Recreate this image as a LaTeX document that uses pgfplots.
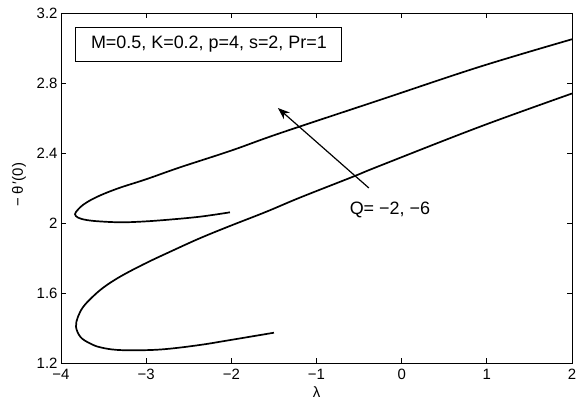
\documentclass[border=0pt]{standalone}
\usepackage{fontspec}
\setmainfont{Liberation Sans}
\usepackage{pgfplots}
\pgfplotsset{compat=1.18}
\usetikzlibrary{arrows.meta}
\begin{document}
\begin{tikzpicture}
\begin{axis}[
  scale only axis,
  width=511bp, height=350bp,
  xmin=-4, xmax=2, ymin=1.2, ymax=3.2,
  xtick={-4,-3,-2,-1,0,1,2},
  xticklabels={−4,−3,−2,−1,0,1,2},
  ytick={1.2,1.6,2,2.4,2.8,3.2},
  yticklabels={1.2,1.6,2,2.4,2.8,3.2},
  tick align=inside,
  major tick length=5bp,
  axis line style={line width=0.9bp},
  tick style={line width=0.9bp,black},
  ticklabel style={font=\fontsize{15}{17}\selectfont},
  xticklabel style={yshift=-3bp},
  xlabel={λ},
  ylabel={−\,θ\,′(0)},
  xlabel style={font=\fontsize{15}{17}\selectfont, at={(axis description cs:0.5,-0.083)}, anchor=center},
  ylabel style={font=\fontsize{15}{17}\selectfont, at={(axis description cs:-0.082,0.51)}, anchor=center},
  clip=false,
]
% Q = -2
\addplot[black, line width=1.7bp, smooth, tension=0.6] coordinates {
  (-2.016,2.061) (-2.369,2.036) (-2.76,2.018) (-3.05,2.008) (-3.3,2.004)
  (-3.542,2.009) (-3.699,2.017) (-3.797,2.030) (-3.836,2.050)
  (-3.80,2.077) (-3.74,2.104) (-3.64,2.134) (-3.50,2.166) (-3.30,2.203) (-3.0,2.250)
  (-2.603,2.318) (-2.0,2.414) (-1.43,2.513) (-0.256,2.703) (0.918,2.893) (2.0,3.05)
};
% Q = -6
\addplot[black, line width=1.7bp, smooth, tension=0.6] coordinates {
  (-1.5,1.373) (-2.016,1.331) (-2.369,1.303) (-2.76,1.280) (-3.05,1.273)
  (-3.346,1.275) (-3.542,1.290) (-3.66,1.312) (-3.77,1.348) (-3.824,1.407)
  (-3.80,1.465) (-3.74,1.520) (-3.64,1.573) (-3.50,1.632) (-3.30,1.695) (-3.006,1.770)
  (-2.70,1.840) (-2.369,1.913) (-2.016,1.983) (-1.586,2.065) (-1.195,2.145)
  (-0.569,2.265) (-0.256,2.327) (0.918,2.550) (2.0,2.740)
};
\draw[line width=1.2bp, -{Stealth[length=12bp,width=9bp]}] (axis cs:-0.385,2.2) -- (axis cs:-1.453,2.657);
\node[draw, line width=0.9bp, minimum width=266bp, minimum height=34bp, inner sep=0pt,
  font=\fontsize{18}{20}\selectfont] at (axis cs:-2.263,3.023) {M=0.5, K=0.2, p=4, s=2, Pr=1};
\node[font=\fontsize{18}{20}\selectfont] at (axis cs:-0.138,2.074) {Q= −2, −6};
\end{axis}
\pgfresetboundingbox
\path ([shift={(-61bp,-40bp)}]current axis.south west) rectangle ([shift={(4bp,13bp)}]current axis.north east);
\end{tikzpicture}
\end{document}
